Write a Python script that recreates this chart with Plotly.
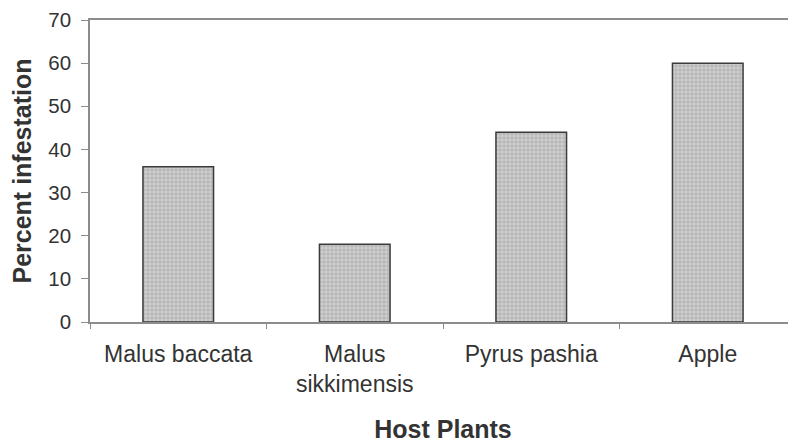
import plotly.graph_objects as go

categories = ["Malus baccata", "Malus<br>sikkimensis", "Pyrus pashia", "Apple"]
values = [36, 18, 44, 60]
y_ticks = [0, 10, 20, 30, 40, 50, 60, 70]

fig = go.Figure()
fig.add_trace(go.Bar(
    x=categories, y=values,
    marker=dict(
        color="#b0b0b0",
        line=dict(color="#3a3a3a", width=1.5),
        pattern=dict(shape="+", fgcolor="#858585", bgcolor="#cfcfcf", size=4, solidity=0.35),
    ),
    width=0.4,
))

font_family = "Liberation Sans, Arial, sans-serif"
fig.update_layout(
    width=788, height=435,
    margin=dict(l=82, r=0, t=12, b=121),
    paper_bgcolor="white", plot_bgcolor="white",
    showlegend=False,
    font=dict(family=font_family, size=22, color="#333333"),
    xaxis=dict(
        automargin=False,
        showline=True, linecolor="#8c8c8c", linewidth=1.5, mirror=True,
        ticks="outside", ticklen=5, tickcolor="#8c8c8c", tickson="boundaries",
        showgrid=False, tickfont=dict(size=23), ticklabelstandoff=11,
        title=dict(text="<b>Host Plants</b>", font=dict(size=25), standoff=31),
    ),
    yaxis=dict(
        automargin=False,
        range=[0, 70], tickvals=y_ticks,
        showline=True, linecolor="#8c8c8c", linewidth=1.5,
        ticks="outside", ticklen=7, tickcolor="#8c8c8c",
        showgrid=False, zeroline=False, tickfont=dict(size=20.5), ticklabelstandoff=6,
        ticklabeloverflow="allow",
        title=dict(text="<b>Percent infestation</b>", font=dict(size=25), standoff=18),
    ),
)
fig.write_html("out.html")
